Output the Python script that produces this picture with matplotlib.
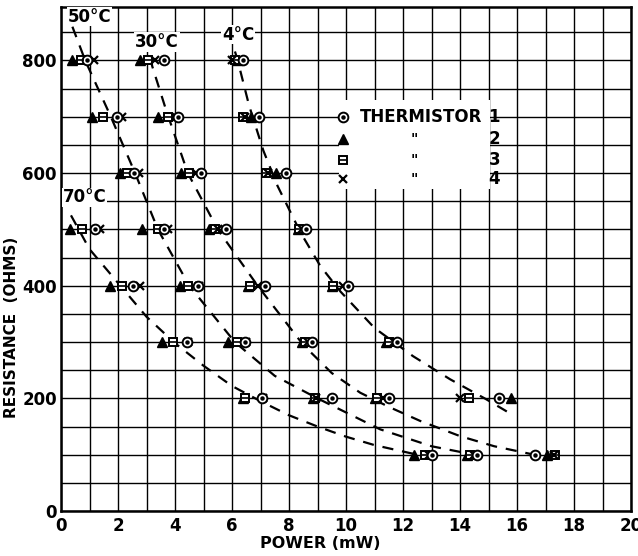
import matplotlib
matplotlib.use("Agg")
import matplotlib.pyplot as plt
from matplotlib.patches import Rectangle

# ---------------- data ----------------
x_ticks = [0, 2, 4, 6, 8, 10, 12, 14, 16, 18, 20]
x_tick_labels = ["0", "2", "4", "6", "8", "10", "12", "14", "16", "18", "20"]
y_ticks = [0, 200, 400, 600, 800]
y_tick_labels = ["0", "200", "400", "600", "800"]

# 4 degC
t4_R = [800, 700, 600, 500, 400, 300, 200]
t4_th1 = [6.40, 6.95, 7.90, 8.60, 10.07, 11.80, 15.37]
t4_th2 = [6.17, 6.67, 7.56, 8.30, 9.50, 11.40, 15.80]
t4_th3 = [6.12, 6.40, 7.20, 8.35, 9.55, 11.50, 14.30]
t4_th4 = [6.00, 6.45, 7.25, 8.45, 9.90, 11.70, 14.00]

# 30 degC
t30_R = [800, 700, 600, 500, 400, 300, 200, 100]
t30_th1 = [3.60, 4.10, 4.90, 5.80, 7.16, 8.80, 11.50, 16.63]
t30_th2 = [2.77, 3.40, 4.20, 5.20, 6.55, 8.45, 11.00, 17.05]
t30_th3 = [3.05, 3.75, 4.50, 5.40, 6.63, 8.55, 11.10, 17.33]
t30_th4 = [3.30, 4.05, 4.75, 5.50, 6.90, 8.65, 11.30, 17.30]

# 50 degC
t50_R = [800, 700, 600, 500, 400, 300, 200, 100]
t50_th1 = [0.90, 1.96, 2.55, 3.60, 4.80, 6.46, 9.50, 14.60]
t50_th2 = [0.40, 1.09, 2.07, 2.84, 4.18, 5.86, 8.85, 14.25]
t50_th3 = [0.70, 1.47, 2.30, 3.40, 4.46, 6.18, 8.90, 14.35]
t50_th4 = [1.15, 2.14, 2.75, 3.75, 4.85, 6.50, 8.95, 14.50]

# 70 degC
t70_R = [500, 400, 300, 200, 100]
t70_th1 = [1.20, 2.53, 4.42, 7.05, 13.00]
t70_th2 = [0.30, 1.72, 3.54, 6.40, 12.37]
t70_th3 = [0.74, 2.14, 3.93, 6.46, 12.77]
t70_th4 = [1.37, 2.77, 4.45, 7.10, 12.90]

# hand-drawn fitted curves (power, resistance)
c4_P = [5.9, 6.2, 6.6, 7.1, 7.6, 8.4, 9.1, 9.8, 11.0, 12.35, 13.65, 14.9, 15.8]
c4_R = [850, 800, 720, 640, 577, 495, 435, 390, 325, 275, 234, 199, 172]
c30_P = [3.0, 3.2, 3.7, 4.45, 5.5, 6.9, 8.5, 9.5, 10.5, 11.5, 12.6, 14.0, 15.2, 16.6]
c30_R = [840, 790, 710, 600, 500, 400, 295, 245, 210, 185, 160, 133, 115, 100]
c50_P = [0.4, 0.85, 1.75, 2.6, 3.4, 4.5, 6.1, 7.5, 9.0, 11.2, 13.0, 14.5]
c50_R = [860, 800, 700, 600, 500, 400, 300, 240, 200, 145, 115, 100]
c70_P = [0.35, 1.0, 2.0, 3.0, 4.0, 5.0, 6.0, 7.0, 8.0, 9.0, 10.0, 11.0, 12.5]
c70_R = [525, 465, 405, 345, 298, 258, 222, 195, 170, 150, 132, 117, 100]

curve_labels = ["4°C", "30°C", "50°C", "70°C"]
curve_label_pos = [(5.65, 846), (2.6, 833), (0.25, 878), (0.05, 557)]

legend_names = ["THERMISTOR", '"', '"', '"']
legend_numbers = ["1", "2", "3", "4"]

# ---------------- figure ----------------
fig = plt.figure(figsize=(6.38, 5.56), dpi=100)
ax = fig.add_axes([61/638, 45/556, 570/638, 504/556])
ax.set_xlim(0, 20)
ax.set_ylim(0, 895)

ax.set_xticks(x_ticks)
ax.set_xticklabels(x_tick_labels)
ax.set_yticks(y_ticks)
ax.set_yticklabels(y_tick_labels)
ax.set_xticks([i for i in range(21)], minor=True)
ax.set_yticks([i * 50 for i in range(18)], minor=True)
ax.grid(True, which="both", color="black", lw=1.0, zorder=0)
ax.tick_params(which="both", length=0)
ax.tick_params(axis="x", pad=4, labelsize=12)
ax.tick_params(axis="y", pad=3, labelsize=12)
for lab in ax.get_xticklabels() + ax.get_yticklabels():
    lab.set_fontweight("bold")
for s in ax.spines.values():
    s.set_linewidth(1.8)
ax.set_axisbelow(True)

ms = 6.5
def draw_group(R, th1, th2, th3, th4):
    ax.plot(th2, R, ls="none", marker="^", ms=ms, mfc="black", mec="black", zorder=4)
    ax.plot(th3, R, ls="none", marker="s", ms=ms - 0.5, mfc="white", mec="black", mew=1.4, zorder=4)
    ax.plot(th3, R, ls="none", marker="_", ms=ms - 1.5, mec="black", mew=1.2, zorder=5)
    ax.plot(th4, R, ls="none", marker="x", ms=ms - 0.5, mec="black", mew=1.6, zorder=4)
    ax.plot(th1, R, ls="none", marker="o", ms=ms + 0.5, mfc="white", mec="black", mew=1.4, zorder=4)
    ax.plot(th1, R, ls="none", marker="o", ms=2.2, mfc="black", mec="black", zorder=5)

draw_group(t4_R, t4_th1, t4_th2, t4_th3, t4_th4)
draw_group(t30_R, t30_th1, t30_th2, t30_th3, t30_th4)
draw_group(t50_R, t50_th1, t50_th2, t50_th3, t50_th4)
draw_group(t70_R, t70_th1, t70_th2, t70_th3, t70_th4)

for P, R in [(c4_P, c4_R), (c30_P, c30_R), (c50_P, c50_R), (c70_P, c70_R)]:
    ax.plot(P, R, color="black", lw=1.6, ls=(0, (5, 4)), zorder=3)

for lab, (px, py) in zip(curve_labels, curve_label_pos):
    ax.text(px, py, lab, fontsize=12, fontweight="bold", ha="left", va="center",
            zorder=6, bbox=dict(facecolor="white", edgecolor="none", pad=0.5))

# legend block (white patch over the grid)
ax.add_patch(Rectangle((9.75, 571), 5.3, 159, facecolor="white", edgecolor="none", zorder=2))
leg_y = [699, 660, 624, 589]
ax.plot([9.9], [leg_y[0]], ls="none", marker="o", ms=ms + 0.5, mfc="white", mec="black", mew=1.4, zorder=4)
ax.plot([9.9], [leg_y[0]], ls="none", marker="o", ms=2.2, mfc="black", mec="black", zorder=5)
ax.plot([9.9], [leg_y[1]], ls="none", marker="^", ms=ms, mfc="black", mec="black", zorder=4)
ax.plot([9.9], [leg_y[2]], ls="none", marker="s", ms=ms - 0.5, mfc="white", mec="black", mew=1.4, zorder=4)
ax.plot([9.9], [leg_y[2]], ls="none", marker="_", ms=ms - 1.5, mec="black", mew=1.2, zorder=5)
ax.plot([9.9], [leg_y[3]], ls="none", marker="x", ms=ms - 0.5, mec="black", mew=1.6, zorder=4)
ax.text(10.5, leg_y[0], legend_names[0], fontsize=12, fontweight="bold", ha="left", va="center", zorder=6)
for yy, nm in zip(leg_y[1:], legend_names[1:]):
    ax.text(12.4, yy, nm, fontsize=10, fontweight="bold", ha="center", va="center", zorder=6)
for yy, num in zip(leg_y, legend_numbers):
    ax.text(15.2, yy, num, fontsize=12, fontweight="bold", ha="center", va="center", zorder=6)

fig.text(12/638, 1 - 327/556, "RESISTANCE  (OHMS)", rotation=90, fontsize=11,
         fontweight="bold", ha="center", va="center")
fig.text(320/638, 1 - 543/556, "POWER (mW)", fontsize=11.5, fontweight="bold",
         ha="center", va="center")

fig.savefig("out.png", dpi=100)
